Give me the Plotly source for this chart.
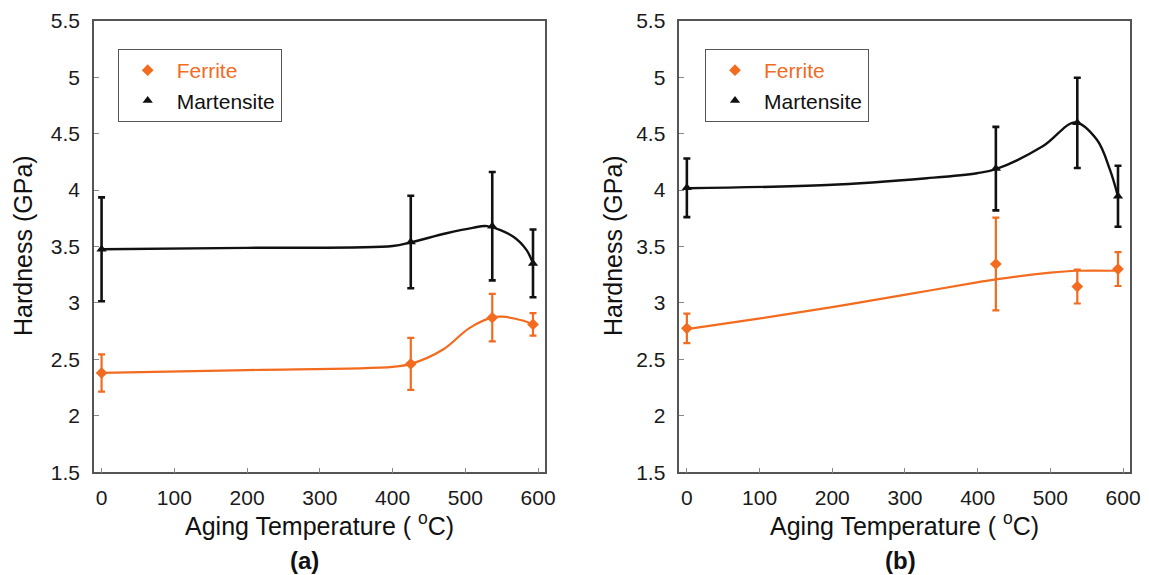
import plotly.graph_objects as go

# ---------------- data ----------------
temp = [0, 425, 537, 593]

a_ferrite = [2.38, 2.46, 2.87, 2.81]
a_ferrite_err = [0.165, 0.23, 0.21, 0.10]
a_martensite = [3.475, 3.54, 3.68, 3.35]
a_martensite_err = [0.46, 0.41, 0.48, 0.30]

b_ferrite = [2.775, 3.345, 3.145, 3.30]
b_ferrite_err = [0.13, 0.41, 0.15, 0.15]
b_martensite = [4.02, 4.19, 4.595, 3.945]
b_martensite_err = [0.26, 0.37, 0.40, 0.27]

# smooth fitted curves
a_ferr_curve_x = [0, 200, 400, 425, 470, 505, 537, 551, 580, 593]
a_ferr_curve_y = [2.381, 2.405, 2.434, 2.46, 2.59, 2.775, 2.872, 2.878, 2.842, 2.81]
a_mart_curve_x = [0, 200, 400, 425, 474, 510, 530, 566, 584, 593]
a_mart_curve_y = [3.475, 3.488, 3.504, 3.537, 3.617, 3.665, 3.68, 3.587, 3.47, 3.35]
b_ferr_curve_x = [0, 101, 202, 303, 399, 425, 500, 536, 593]
b_ferr_curve_y = [2.768, 2.863, 2.966, 3.076, 3.182, 3.209, 3.268, 3.285, 3.285]
b_mart_curve_x = [0, 193, 330, 399, 425, 490, 534, 564, 582, 593]
b_mart_curve_y = [4.016, 4.045, 4.105, 4.149, 4.185, 4.39, 4.598, 4.445, 4.178, 3.942]

x_ticks = [0, 100, 200, 300, 400, 500, 600]
y_ticks = [1.5, 2, 2.5, 3, 3.5, 4, 4.5, 5, 5.5]
y_tick_text = ["1.5", "2", "2.5", "3", "3.5", "4", "4.5", "5", "5.5"]

ORANGE = "#F26B1F"
BLACK = "#111111"
FONT = "Arial, 'Liberation Sans', Helvetica, sans-serif"

W, H = 1149, 575

fig = go.Figure()

panels = [
    dict(xa="x", ya="y", leg="legend",
         fx=a_ferr_curve_x, fy=a_ferr_curve_y, mx=a_mart_curve_x, my=a_mart_curve_y,
         f=a_ferrite, fe=a_ferrite_err, m=a_martensite, me=a_martensite_err),
    dict(xa="x2", ya="y2", leg="legend2",
         fx=b_ferr_curve_x, fy=b_ferr_curve_y, mx=b_mart_curve_x, my=b_mart_curve_y,
         f=b_ferrite, fe=b_ferrite_err, m=b_martensite, me=b_martensite_err),
]

for p in panels:
    # curves
    fig.add_trace(go.Scatter(x=p["fx"], y=p["fy"], mode="lines", line=dict(color=ORANGE, width=2.2, shape="spline", smoothing=1.0),
                             xaxis=p["xa"], yaxis=p["ya"], showlegend=False, hoverinfo="skip"))
    fig.add_trace(go.Scatter(x=p["mx"], y=p["my"], mode="lines", line=dict(color=BLACK, width=2.4, shape="spline", smoothing=1.0),
                             xaxis=p["xa"], yaxis=p["ya"], showlegend=False, hoverinfo="skip"))
    # points with error bars
    fig.add_trace(go.Scatter(x=temp, y=p["f"], mode="markers",
                             name='<span style="color:%s">Ferrite</span>' % ORANGE,
                             marker=dict(symbol="diamond", size=9, color=ORANGE),
                             error_y=dict(type="data", array=p["fe"], visible=True, color=ORANGE, thickness=2.2, width=3.5),
                             xaxis=p["xa"], yaxis=p["ya"], legend=p["leg"]))
    fig.add_trace(go.Scatter(x=temp, y=p["m"], mode="markers", name="Martensite",
                             marker=dict(symbol="triangle-up", size=9, color=BLACK),
                             error_y=dict(type="data", array=p["me"], visible=True, color=BLACK, thickness=2.6, width=3.5),
                             xaxis=p["xa"], yaxis=p["ya"], legend=p["leg"]))

y_dom = [(H - 472.3) / H, (H - 20.7) / H]
x_doms = [[94 / W, 545 / W], [679.3 / W, 1130 / W]]

axis_common = dict(showline=True, linecolor="#555555", linewidth=1.5, mirror=True,
                   ticks="inside", ticklen=5, tickwidth=1, tickcolor="#888888",
                   showgrid=False, zeroline=False, automargin=False,
                   tickfont=dict(family=FONT, size=21, color="#1a1a1a"))

xa = dict(axis_common, range=[-10.4, 609.5], tickvals=x_ticks, ticklabelstandoff=6)
ya = dict(axis_common, range=[1.5, 5.5], tickvals=y_ticks, ticktext=y_tick_text, ticklabelstandoff=8)

leg_common = dict(xanchor="left", yanchor="top", bgcolor="white", bordercolor="#555555", borderwidth=1,
                  font=dict(family=FONT, size=21, color="#111111"), itemwidth=48,
                  tracegroupgap=0)

fig.update_layout(
    width=W, height=H,
    paper_bgcolor="white", plot_bgcolor="white",
    margin=dict(l=0, r=0, t=0, b=0, pad=0, autoexpand=False),
    xaxis=dict(xa, domain=x_doms[0], anchor="y"),
    yaxis=dict(ya, domain=y_dom, anchor="x"),
    xaxis2=dict(xa, domain=x_doms[1], anchor="y2"),
    yaxis2=dict(ya, domain=y_dom, anchor="x2"),
    legend=dict(leg_common, x=117.7 / W, y=1 - 49 / H),
    legend2=dict(leg_common, x=705 / W, y=1 - 49 / H),
)

annots = []
for xc in [(94 + 545) / 2, (679.3 + 1130) / 2]:
    annots.append(dict(text="Aging Temperature ( <sup>o</sup>C)", x=xc / W, y=1 - 524 / H, xref="paper", yref="paper",
                       xanchor="center", yanchor="middle", showarrow=False,
                       font=dict(family=FONT, size=25, color="#111111")))
for xc in [23, 613]:
    annots.append(dict(text="Hardness (GPa)", x=xc / W, y=1 - 246 / H, xref="paper", yref="paper",
                       xanchor="center", yanchor="middle", showarrow=False, textangle=-90,
                       font=dict(family=FONT, size=25, color="#111111")))
for lab, xc in [("(a)", 304), ("(b)", 900)]:
    annots.append(dict(text="<b>%s</b>" % lab, x=xc / W, y=1 - 560 / H, xref="paper", yref="paper",
                       xanchor="center", yanchor="middle", showarrow=False,
                       font=dict(family=FONT, size=24, color="#111111")))
fig.update_layout(annotations=annots)

fig.write_html("out.html", config={"displayModeBar": False},
               post_script="document.body.style.margin='0px'; document.body.style.overflow='hidden';")
